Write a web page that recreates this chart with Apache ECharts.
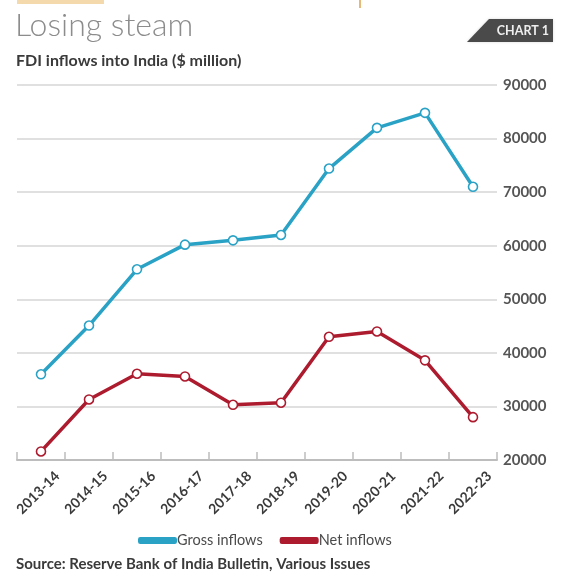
<!DOCTYPE html>
<html>
<head>
<meta charset="utf-8">
<title>Losing steam</title>
<script src="https://cdn.jsdelivr.net/npm/echarts@6/dist/echarts.min.js"></script>
<style>
  html, body { margin: 0; padding: 0; background: #ffffff; }
  #chart { width: 561px; height: 575px; }
</style>
</head>
<body>
<div id="chart"></div>
<script>
// Financial years on the horizontal axis
const years = ['2013-14', '2014-15', '2015-16', '2016-17', '2017-18',
               '2018-19', '2019-20', '2020-21', '2021-22', '2022-23'];

// FDI inflows into India, $ million
const grossInflows = [36000, 45100, 55600, 60200, 61000, 62000, 74400, 82000, 84800, 71000];
const netInflows   = [21600, 31300, 36100, 35600, 30300, 30700, 43000, 44000, 38600, 28000];

// Value axis ticks
const yTicks = [20000, 30000, 40000, 50000, 60000, 70000, 80000, 90000];

const GROSS_COLOR = '#2aa2c6';
const NET_COLOR = '#ad1b2f';
const FONT = 'Lato, "Open Sans", sans-serif';

const chart = echarts.init(document.getElementById('chart'), null, { renderer: 'canvas' });

function lineSeries(name, values, color) {
  return {
    name: name,
    type: 'line',
    data: values,
    symbol: 'circle',
    symbolSize: 9,
    lineStyle: { color: color, width: 3.5 },
    itemStyle: { color: '#ffffff', borderColor: color, borderWidth: 1.6 },
    emphasis: { disabled: true },
    z: 3
  };
}

chart.setOption({
  backgroundColor: '#ffffff',
  animation: false,
  title: [
    {
      text: 'Losing steam',
      left: 15, top: 10, padding: 0,
      textStyle: { fontFamily: FONT, fontWeight: 300, fontSize: 32, color: '#8c8c8c' }
    },
    {
      text: 'FDI inflows into India ($ million)',
      left: 16, top: 53, padding: 0,
      textStyle: { fontFamily: FONT, fontWeight: 'bold', fontSize: 16, color: '#3a3a3a' }
    },
    {
      text: 'Source: Reserve Bank of India Bulletin, Various Issues',
      left: 16, top: 557, padding: 0,
      textStyle: { fontFamily: FONT, fontWeight: 'bold', fontSize: 15, color: '#3a3a3a' }
    }
  ],
  graphic: [
    { type: 'rect', shape: { x: 17, y: 0, width: 87, height: 4 }, style: { fill: '#f3d9ab' } },
    { type: 'rect', shape: { x: 359, y: 0, width: 2, height: 8 }, style: { fill: '#e6b978' } },
    {
      type: 'polygon',
      shape: { points: [[489, 19], [553, 19], [553, 42], [467, 42]] },
      style: { fill: '#4a4a4a', shadowBlur: 3, shadowColor: 'rgba(0,0,0,0.15)' }
    },
    {
      type: 'text',
      style: {
        x: 549, y: 31, text: 'CHART 1', align: 'right', verticalAlign: 'middle',
        fontFamily: FONT, fontWeight: 'bold', fontSize: 12.5, fill: '#eeeeee'
      }
    }
  ],
  legend: {
    data: [
      { name: 'Gross inflows', itemStyle: { color: GROSS_COLOR } },
      { name: 'Net inflows', itemStyle: { color: NET_COLOR } }
    ],
    icon: 'roundRect',
    itemWidth: 37,
    itemHeight: 5,
    itemGap: 17,
    left: 133,
    top: 528,
    textStyle: { fontFamily: FONT, fontSize: 14.5, color: '#4a4a4a', padding: [0, 0, 0, -4] },
    selectedMode: false
  },
  grid: { left: 17, right: 64, top: 85, bottom: 115, containLabel: false },
  xAxis: {
    type: 'category',
    data: years,
    boundaryGap: true,
    axisLine: { lineStyle: { color: '#bdbdbd', width: 2 } },
    axisTick: { show: true, inside: true, length: 8, lineStyle: { color: '#bdbdbd', width: 1.5 } },
    axisLabel: {
      interval: 0,
      rotate: 45,
      margin: 30,
      padding: [0, -23, 0, 0],
      fontFamily: FONT, fontWeight: 'bold', fontSize: 14, color: '#3a3a3a'
    },
    splitLine: { show: false }
  },
  yAxis: {
    type: 'value',
    position: 'right',
    min: yTicks[0],
    max: yTicks[yTicks.length - 1],
    interval: yTicks[1] - yTicks[0],
    axisLine: { show: false },
    axisTick: { show: false },
    axisLabel: {
      margin: 6,
      formatter: function (v) { return String(v); },
      fontFamily: FONT, fontWeight: 'bold', fontSize: 15, color: '#555555',
      padding: [5, 0, 0, 0]
    },
    splitLine: { lineStyle: { color: '#d6d6d6', width: 1.5 } }
  },
  series: [
    lineSeries('Gross inflows', grossInflows, GROSS_COLOR),
    lineSeries('Net inflows', netInflows, NET_COLOR)
  ]
});
</script>
</body>
</html>
